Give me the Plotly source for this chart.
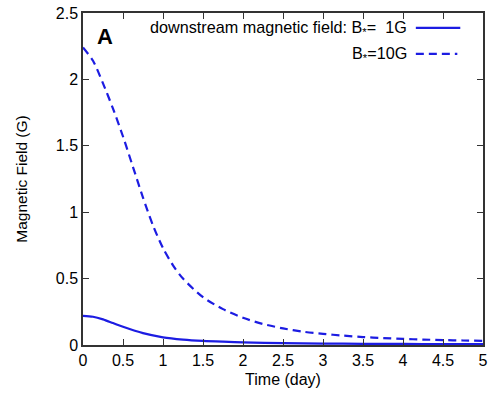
import plotly.graph_objects as go

# Data
t_10G = [0, 0.125, 0.25, 0.375, 0.5, 0.625, 0.75, 0.875, 1.0, 1.125, 1.25, 1.5, 1.75, 2.0,
         2.25, 2.5, 2.75, 3.0, 3.25, 3.5, 3.75, 4.0, 4.25, 4.5, 4.75, 5.0]
b_10G = [2.24, 2.14, 1.97, 1.78, 1.57, 1.34, 1.11, 0.90, 0.73, 0.60, 0.50, 0.36, 0.27, 0.205,
         0.158, 0.125, 0.10, 0.084, 0.071, 0.060, 0.052, 0.046, 0.041, 0.037, 0.034, 0.031]

t_1G = [0, 0.125, 0.25, 0.375, 0.5, 0.75, 1.0, 1.25, 1.5, 1.75, 2.0, 2.5, 3.0, 3.5, 4.0, 4.5, 5.0]
b_1G = [0.22, 0.213, 0.193, 0.165, 0.137, 0.089, 0.058, 0.041, 0.031, 0.025, 0.020, 0.014,
        0.011, 0.009, 0.008, 0.007, 0.006]

legend_labels = ["downstream magnetic field: B<sub>*</sub>=  1G", "B<sub>*</sub>=10G"]
x_ticks = [0, 0.5, 1, 1.5, 2, 2.5, 3, 3.5, 4, 4.5, 5]
x_tick_text = ["0", "0.5", "1", "1.5", "2", "2.5", "3", "3.5", "4", "4.5", "5"]
y_ticks = [0, 0.5, 1, 1.5, 2, 2.5]
y_tick_text = ["0", "0.5", "1", "1.5", "2", "2.5"]

BLUE = "#1c1ce2"
FONT = "Liberation Sans, Arial, sans-serif"

fig = go.Figure()
fig.add_trace(go.Scatter(x=t_1G, y=b_1G, mode="lines",
                         line=dict(color=BLUE, width=2.2, shape="spline", smoothing=0.8),
                         showlegend=False))
fig.add_trace(go.Scatter(x=t_10G, y=b_10G, mode="lines",
                         line=dict(color=BLUE, width=2.2, shape="spline", smoothing=0.8, dash="8px,5px"),
                         showlegend=False))

axis_common = dict(showline=True, linecolor="#333333", linewidth=1.5, mirror="allticks",
                   ticks="inside", ticklen=6, tickcolor="#333333", tickwidth=1,
                   showgrid=False, zeroline=False,
                   tickfont=dict(family=FONT, size=16, color="black"))

fig.update_xaxes(range=[0, 5], tickvals=x_ticks, ticktext=x_tick_text,
                 title=dict(text="Time (day)", font=dict(family=FONT, size=16, color="black"), standoff=6),
                 **axis_common)
fig.update_yaxes(range=[0, 2.5], tickvals=y_ticks, ticktext=y_tick_text,
                 title=dict(text="Magnetic Field (G)", font=dict(family=FONT, size=15.5, color="black"),
                            standoff=24),
                 **axis_common)

W, H = 493, 400
L, R, T, B = 83, 5, 12, 55
pw, ph = W - L - R, H - T - B

def px(xp):
    return (xp - L) / pw

def py(yp):
    return (H - B - yp) / ph

annotations = [
    dict(text="<b>A</b>", x=px(95), y=py(36), xref="paper", yref="paper", xanchor="left",
         yanchor="middle", showarrow=False, font=dict(family=FONT, size=22, color="black")),
    dict(text=legend_labels[0], x=px(413), y=py(27), xref="paper", yref="paper", xanchor="right",
         yanchor="middle", showarrow=False, font=dict(family=FONT, size=16.2, color="black")),
    dict(text=legend_labels[1], x=px(413), y=py(53), xref="paper", yref="paper", xanchor="right",
         yanchor="middle", showarrow=False, font=dict(family=FONT, size=16.2, color="black")),
]
shapes = [
    dict(type="line", xref="paper", yref="paper", x0=px(420), x1=px(465), y0=py(27), y1=py(27),
         line=dict(color=BLUE, width=2.2)),
    dict(type="line", xref="paper", yref="paper", x0=px(420), x1=px(462), y0=py(53), y1=py(53),
         line=dict(color=BLUE, width=2.2, dash="8px,5px")),
]

fig.update_layout(width=W, height=H, margin=dict(l=L, r=R, t=T, b=B),
                  plot_bgcolor="white", paper_bgcolor="white",
                  annotations=annotations, shapes=shapes, showlegend=False)

fig.write_html("out.html")
